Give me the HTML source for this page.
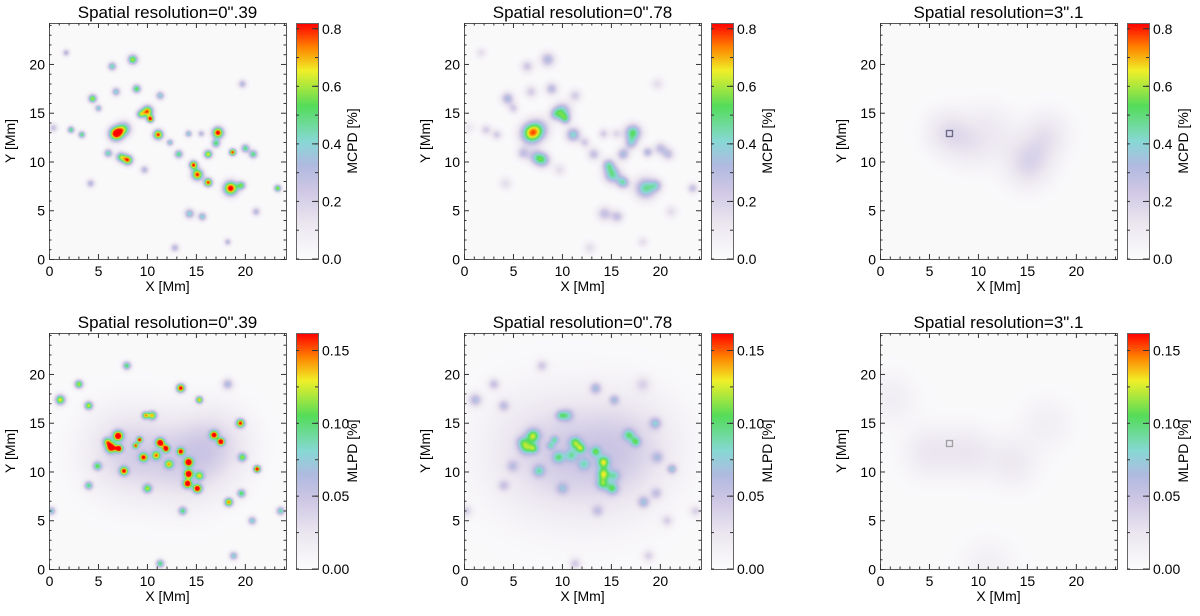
<!DOCTYPE html>
<html><head><meta charset="utf-8"><style>
body{margin:0;background:#fff;width:1200px;height:616px;overflow:hidden;position:relative;font-family:"Liberation Sans",sans-serif}
canvas{position:absolute;z-index:1}
svg{position:absolute;left:0;top:0;z-index:2}
</style></head><body>
<svg id="ov" width="1200" height="616"></svg>
<script>
// ---- data: blobs [x Mm, y Mm] positions, amplitudes, widths (Mm) ----
const mcX=[6.8,7.6,8.0,7.3,6.0,10.0,9.3,10.3,11.1,14.7,15.1,16.2,16.2,17.2,17.0,18.7,18.5,19.6,20.0,20.8,23.3,8.5,6.4,4.4,5.0,8.9,6.8,11.3,2.2,3.3,13.2,14.2,12.3,15.6,14.3,21.1,19.7,1.7,0.4,15.5,4.2,9.7,18.2,12.8];
const mcY=[12.9,13.4,10.2,10.5,10.9,15.2,14.9,14.4,12.8,9.7,8.7,7.9,10.8,13.0,11.9,11.0,7.3,7.6,11.4,10.8,7.3,20.5,19.8,16.5,15.5,17.5,17.2,16.8,13.3,12.8,10.8,12.9,12.0,4.4,4.7,4.9,18.0,21.2,13.5,12.9,7.8,9.2,1.8,1.2];
const mc1V=[0.9,0.5,0.75,0.55,0.45,0.75,0.5,0.8,0.8,0.8,0.8,0.8,0.65,0.85,0.5,0.8,0.85,0.5,0.5,0.5,0.6,0.6,0.45,0.6,0.4,0.55,0.4,0.4,0.5,0.5,0.5,0.4,0.4,0.4,0.4,0.3,0.3,0.3,0.25,0.3,0.3,0.3,0.3,0.3];
const mc1S=[0.5,0.5,0.35,0.35,0.3,0.4,0.3,0.25,0.35,0.3,0.4,0.3,0.3,0.4,0.3,0.25,0.5,0.3,0.3,0.3,0.25,0.35,0.3,0.3,0.25,0.3,0.3,0.3,0.25,0.25,0.3,0.25,0.25,0.3,0.35,0.3,0.3,0.25,0.3,0.25,0.3,0.3,0.25,0.3];
const mc2V=[0.6,0.3,0.4,0.3,0.25,0.4,0.28,0.35,0.4,0.35,0.45,0.4,0.32,0.5,0.28,0.3,0.45,0.25,0.25,0.25,0.25,0.3,0.22,0.32,0.2,0.28,0.2,0.2,0.2,0.2,0.25,0.2,0.2,0.25,0.25,0.14,0.14,0.14,0.1,0.16,0.14,0.14,0.14,0.14];
const mc3X=[7,9.5,11,15,17,16,13];
const mc3Y=[13,11.5,14,9.5,13,11,12];
const mc3V=[0.14,0.08,0.06,0.13,0.1,0.06,0.04];

const mlX=[8,14,17,6.3,7.0,7.1,5.9,7.6,9.6,10.5,9.8,11.3,11.9,13.4,15.3,14.2,14.2,14.1,15.1,15.3,13.4,16.8,17.5,19.5,21.2,19.7,18.3,19.6,4.0,1.1,3.0,7.9,9.2,8.8,10.9,12.2,10.0,4.0,13.6,11.3,18.8,23.6,0.2,20.7,18.2,4.9];
const mlY=[12,11,13,12.5,13.7,12.4,13.1,10.1,11.5,15.8,15.8,13.0,12.4,18.6,17.4,11.0,9.8,8.8,8.3,9.6,12.1,13.8,13.1,15.0,10.3,11.5,6.9,7.8,16.8,17.4,19.0,20.9,13.3,12.7,11.7,10.8,8.3,8.6,6.0,0.6,1.4,6.0,6.0,5.0,19.0,10.6];
const ml1V=[0.035,0.032,0.025,0.17,0.17,0.16,0.1,0.14,0.13,0.12,0.12,0.17,0.16,0.17,0.13,0.17,0.17,0.17,0.17,0.1,0.14,0.15,0.17,0.15,0.17,0.1,0.14,0.1,0.12,0.13,0.12,0.1,0.14,0.12,0.11,0.1,0.1,0.09,0.09,0.1,0.08,0.09,0.08,0.08,0.06,0.09];
const ml1S=[3,3,2.5,0.35,0.35,0.25,0.3,0.3,0.3,0.3,0.25,0.3,0.25,0.3,0.25,0.3,0.3,0.3,0.3,0.3,0.25,0.3,0.25,0.3,0.25,0.3,0.3,0.3,0.3,0.35,0.3,0.3,0.2,0.2,0.3,0.3,0.3,0.3,0.3,0.3,0.3,0.3,0.3,0.3,0.4,0.3];
const ml2V=[0.028,0.025,0.02,0.07,0.09,0.06,0.045,0.055,0.055,0.055,0.055,0.07,0.065,0.055,0.05,0.08,0.08,0.07,0.07,0.045,0.06,0.06,0.065,0.055,0.06,0.04,0.055,0.04,0.045,0.055,0.045,0.04,0.05,0.045,0.045,0.04,0.04,0.035,0.035,0.04,0.035,0.035,0.035,0.035,0.03,0.035];
const ml3X=[5,9,13.5,1,17,11];
const ml3Y=[12,12,11,17.5,15,0.5];
const ml3V=[0.02,0.02,0.018,0.014,0.012,0.012];

const stops=[[0,[252,252,252]],[0.15,[236,231,240]],[0.3,[205,198,228]],[0.4,[176,186,224]],[0.5,[136,216,214]],[0.65,[84,220,90]],[0.8,[240,240,40]],[0.9,[255,130,0]],[1,[255,0,0]]];
function cmap(t){t=Math.max(0,Math.min(1,t));for(let i=1;i<stops.length;i++){if(t<=stops[i][0]){const a=stops[i-1],b=stops[i],f=(t-a[0])/(b[0]-a[0]);return a[1].map((c,k)=>c+(b[1][k]-c)*f);}}return stops[stops.length-1][1];}

const W=237,H=236,XMAX=24.2;
const colL=[49,464,880],rowT=[23,333];
const NS='http://www.w3.org/2000/svg',ov=document.getElementById('ov');
function sv(tag,at,txt){const e=document.createElementNS(NS,tag);for(const k in at)e.setAttribute(k,at[k]);if(txt!==undefined)e.textContent=txt;ov.appendChild(e);return e;}

function heat(L,T,xs,ys,vs,ss,sScale,vmax,name,box){
  const c=document.createElement('canvas');c.width=W;c.height=H;c.style.left=L+'px';c.style.top=T+'px';
  
  
  document.body.appendChild(c);
  const ctx=c.getContext('2d'),img=ctx.createImageData(W,H);
  for(let py=0;py<H;py++){const my=XMAX*(1-py/H);
    for(let px=0;px<W;px++){const mx=XMAX*px/W;let v=vmax*0.02;
      for(let i=0;i<xs.length;i++){const s=(ss?ss[i]:1)*sScale,dx=mx-xs[i],dy=my-ys[i],d=(dx*dx+dy*dy)/(2*s*s);if(d<12)v+=vs[i]*Math.exp(-d);}
      const col=cmap(v/vmax),o=(py*W+px)*4;img.data[o]=col[0];img.data[o+1]=col[1];img.data[o+2]=col[2];img.data[o+3]=255;}}
  ctx.putImageData(img,0,0);
  if(box){ctx.strokeStyle=box;ctx.lineWidth=1;const bx=7*W/XMAX,by=H*(1-12.9/XMAX);ctx.strokeRect(Math.round(bx-3)+0.5,Math.round(by-3)+0.5,6,6);}
}
function axes(L,T,title){
  sv('text',{x:L+W/2,y:T-5,'font-size':17,'text-anchor':'middle',},title);
  sv('rect',{x:L+0.5,y:T+0.5,width:W,height:H,fill:'none',stroke:'#555','stroke-width':1,});
  const sc=W/XMAX;
  for(let m=0;m<=24;m++){const maj=m%5==0,len=maj?5:2.5,x=L+0.5+m*sc,y=T+0.5+H-m*H/XMAX;
    sv('line',{x1:x,x2:x,y1:T+H,y2:T+H-len,stroke:'#333'});sv('line',{x1:x,x2:x,y1:T,y2:T+len,stroke:'#333'});
    sv('line',{x1:L,x2:L+len,y1:y,y2:y,stroke:'#333'});sv('line',{x1:L+W,x2:L+W-len,y1:y,y2:y,stroke:'#333'});
    if(maj&&m<=20){sv('text',{x:x,y:T+H+17,'font-size':14,'text-anchor':'middle',},m);
      sv('text',{x:L-4,y:y+5,'font-size':14,'text-anchor':'end',},m);}}
  sv('text',{x:L+W/2,y:T+H+32,'font-size':14,'text-anchor':'middle',},'X [Mm]');
  sv('text',{x:0,y:0,'font-size':14,'text-anchor':'middle',transform:`translate(${L-34},${T+H/2}) rotate(-90)`,},'Y [Mm]');
}
const mcTicks=[0,0.2,0.4,0.6,0.8],mcLab=['0.0','0.2','0.4','0.6','0.8'];
const mlTicks=[0,0.05,0.1,0.15],mlLab=['0.00','0.05','0.10','0.15'];
function cbar(L,T,vmax,ticks,labs,name){
  const x=L+W+10,w=22;
  const c=document.createElement('canvas');c.width=w;c.height=H;c.style.left=x+'px';c.style.top=T+'px';
  
  
  document.body.appendChild(c);const ctx=c.getContext('2d');
  for(let py=0;py<H;py++){const col=cmap(1-py/H);ctx.fillStyle=`rgb(${col.map(Math.round).join(',')})`;ctx.fillRect(0,py,w,1);}
  sv('rect',{x:x+0.5,y:T+0.5,width:w,height:H,fill:'none',stroke:'#666',});
  const minor=vmax>0.5?0.1:0.025;
  for(let v=0;v<=vmax+1e-9;v+=minor){const y=T+H-v/vmax*H;sv('line',{x1:x+w,x2:x+w-3,y1:y,y2:y,stroke:'#333'});sv('line',{x1:x,x2:x+3,y1:y,y2:y,stroke:'#333'});}
  ticks.forEach((v,i)=>{const y=T+H-v/vmax*H;sv('line',{x1:x+w,x2:x+w-6,y1:y,y2:y,stroke:'#333'});
    sv('text',{x:x+w+4,y:y+5,'font-size':14,},labs[i]);});
  sv('text',{x:0,y:0,'font-size':14,'text-anchor':'middle','xml:space':'preserve',transform:`translate(${x+w+39},${T+H/2}) rotate(-90)`,},name+'   [%]');
}
const titles=["Spatial resolution=0\".39","Spatial resolution=0\".78","Spatial resolution=3\".1"];
const MCMAX=0.82,MLMAX=0.162;
heat(colL[0],rowT[0],mcX,mcY,mc1V,mc1S,1,MCMAX,'mcpd-map-039');
heat(colL[1],rowT[0],mcX,mcY,mc2V,mc1S,1.5,MCMAX,'mcpd-map-078');
heat(colL[2],rowT[0],mc3X,mc3Y,mc3V,null,1.6,MCMAX,'mcpd-map-31','#446');
heat(colL[0],rowT[1],mlX,mlY,ml1V,ml1S,1,MLMAX,'mlpd-map-039');
heat(colL[1],rowT[1],mlX,mlY,ml2V,ml1S,1.4,MLMAX,'mlpd-map-078');
heat(colL[2],rowT[1],ml3X,ml3Y,ml3V,null,1.8,MLMAX,'mlpd-map-31','#888');
for(let c=0;c<3;c++){axes(colL[c],rowT[0],titles[c]);cbar(colL[c],rowT[0],MCMAX,mcTicks,mcLab,'MCPD');
  axes(colL[c],rowT[1],titles[c]);cbar(colL[c],rowT[1],MLMAX,mlTicks,mlLab,'MLPD');}
</script>
</body></html>
